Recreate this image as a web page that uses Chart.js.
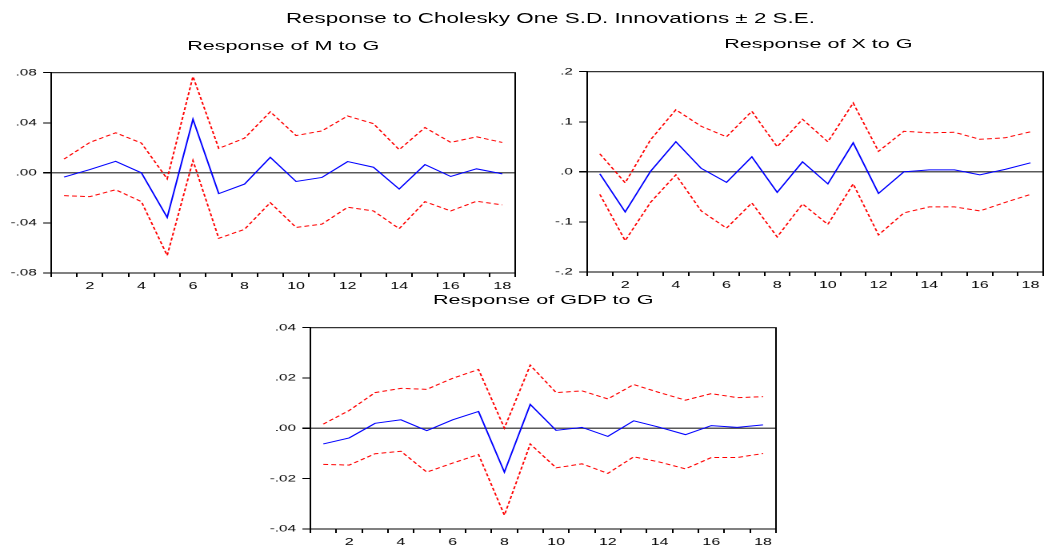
<!DOCTYPE html>
<html>
<head>
<meta charset="utf-8">
<script src="https://cdn.jsdelivr.net/npm/chart.js@4.4.1/dist/chart.umd.min.js"></script>
<style>
  html, body { margin: 0; padding: 0; background: #fff; }
  #wrap { position: absolute; left: 0; top: 0; width: 654px; height: 551px;
          transform: scaleX(1.6); transform-origin: 0 0; }
  .box { position: absolute; }
  .ttl { position: absolute; text-align: center; font-family: "Liberation Sans", Arial, sans-serif;
         color: #000; white-space: nowrap; }
</style>
</head>
<body>
<div id="wrap">
  <div class="ttl" style="left:0;width:688px;top:10px;font-size:14px;">Response to Cholesky One S.D. Innovations ± 2 S.E.</div>
  <div class="ttl" style="left:33px;width:288px;top:38px;font-size:13.5px;">Response of M to G</div>
  <div class="ttl" style="left:370px;width:283px;top:36px;font-size:13.5px;">Response of X to G</div>
  <div class="ttl" style="left:195px;width:289px;top:292px;font-size:13.5px;">Response of GDP to G</div>
  <div class="box" style="left:2px;top:63px;"><canvas id="cM" width="322" height="230"></canvas></div>
  <div class="box" style="left:337px;top:62px;"><canvas id="cX" width="317" height="230"></canvas></div>
  <div class="box" style="left:164px;top:318px;"><canvas id="cGDP" width="323" height="231"></canvas></div>
</div>
<script>
// periods after the shock
const periods = ['1','2','3','4','5','6','7','8','9','10','11','12','13','14','15','16','17','18'];

// Response of M to G
const mResp  = [-0.0034, 0.0026, 0.0092, 0.0000, -0.0356, 0.0428, -0.0166, -0.0090, 0.0124, -0.0069, -0.0037, 0.0090, 0.0045, -0.0129, 0.0066, -0.0029, 0.0032, -0.0008];
const mUpper = [0.0110, 0.0243, 0.0320, 0.0238, -0.0048, 0.0770, 0.0195, 0.0277, 0.0488, 0.0298, 0.0335, 0.0454, 0.0393, 0.0185, 0.0362, 0.0243, 0.0288, 0.0243];
const mLower = [-0.0182, -0.0190, -0.0135, -0.0230, -0.0660, 0.0098, -0.0523, -0.0451, -0.0238, -0.0436, -0.0410, -0.0275, -0.0304, -0.0446, -0.0230, -0.0304, -0.0227, -0.0256];
const mTickVals   = [-0.08, -0.04, 0, 0.04, 0.08];
const mTickLabels = ['-.08', '-.04', '.00', '.04', '.08'];

// Response of X to G
const xResp  = [-0.004, -0.080, 0.001, 0.060, 0.007, -0.021, 0.030, -0.041, 0.020, -0.024, 0.058, -0.043, 0.000, 0.004, 0.004, -0.006, 0.005, 0.018];
const xUpper = [0.036, -0.022, 0.064, 0.124, 0.091, 0.070, 0.121, 0.050, 0.105, 0.060, 0.1375, 0.041, 0.081, 0.078, 0.079, 0.065, 0.068, 0.080];
const xLower = [-0.045, -0.1375, -0.061, -0.006, -0.078, -0.1125, -0.062, -0.130, -0.064, -0.105, -0.024, -0.126, -0.082, -0.070, -0.070, -0.078, -0.061, -0.045];
const xTickVals   = [-0.2, -0.1, 0, 0.1, 0.2];
const xTickLabels = ['-.2', '-.1', '.0', '.1', '.2'];

// Response of GDP to G
const gdpResp  = [-0.0062, -0.0038, 0.0020, 0.0034, -0.0009, 0.0034, 0.0067, -0.0174, 0.0095, -0.0008, 0.0004, -0.0032, 0.0030, 0.0004, -0.0025, 0.0011, 0.0004, 0.0014];
const gdpUpper = [0.0017, 0.0071, 0.0142, 0.0159, 0.0155, 0.0199, 0.0234, 0.0001, 0.0251, 0.0142, 0.0149, 0.0117, 0.0174, 0.0142, 0.0112, 0.0138, 0.0122, 0.0126];
const gdpLower = [-0.0143, -0.0146, -0.0101, -0.0091, -0.0174, -0.0138, -0.0104, -0.0345, -0.0062, -0.0157, -0.0141, -0.0179, -0.0113, -0.0134, -0.0161, -0.0116, -0.0116, -0.0100];
const gdpTickVals   = [-0.04, -0.02, 0, 0.02, 0.04];
const gdpTickLabels = ['-.04', '-.02', '.00', '.02', '.04'];

const FONT = '"Liberation Sans", Arial, sans-serif';

// box around the plot area
const framePlugin = {
    id: 'frame',
    afterDraw(chart) {
        const ctx = chart.ctx;
        const a = chart.chartArea;
        ctx.save();
        ctx.strokeStyle = '#000';
        ctx.lineWidth = 1;
        ctx.strokeRect(a.left, a.top, a.right - a.left, a.bottom - a.top);
        ctx.restore();
    }
};

function makePanel(id, resp, upper, lower, tickVals, tickLabels) {
    const band = (data) => ({
        data: data,
        borderColor: '#ff0000',
        borderWidth: 1,
        borderDash: [3, 2],
        pointRadius: 0,
        tension: 0,
        fill: false
    });
    return new Chart(document.getElementById(id), {
        type: 'line',
        data: {
            labels: periods,
            datasets: [
                band(upper),
                band(lower),
                {
                    data: resp,
                    borderColor: '#0000ff',
                    borderWidth: 1,
                    pointRadius: 0,
                    tension: 0,
                    fill: false
                }
            ]
        },
        options: {
            responsive: false,
            animation: false,
            devicePixelRatio: 2,
            layout: { padding: { left: 0, right: 2, top: 6, bottom: 0 } },
            plugins: { legend: { display: false }, tooltip: { enabled: false } },
            scales: {
                x: {
                    type: 'category',
                    offset: true,
                    afterFit: (s) => { s.height = 20; },
                    grid: { offset: true, drawOnChartArea: false, tickLength: 4, tickColor: '#000' },
                    border: { color: '#000' },
                    ticks: {
                        autoSkip: false,
                        maxRotation: 0,
                        minRotation: 0,
                        padding: 3,
                        color: '#000',
                        font: { family: FONT, size: 10 },
                        callback: function (v, i) { return i % 2 === 1 ? periods[i] : ''; }
                    }
                },
                y: {
                    min: tickVals[0],
                    max: tickVals[tickVals.length - 1],
                    afterFit: (s) => { s.width = 30; },
                    afterBuildTicks: (s) => { s.ticks = tickVals.map(v => ({ value: v })); },
                    grid: {
                        drawOnChartArea: true,
                        tickLength: 5,
                        tickColor: '#000',
                        color: (c) => (c.tick && c.tick.value === 0 ? '#5a5a5a' : 'rgba(0,0,0,0)'),
                        lineWidth: (c) => (c.tick && c.tick.value === 0 ? 1.5 : 1)
                    },
                    border: { color: '#000' },
                    ticks: {
                        padding: 4,
                        color: '#000',
                        font: { family: FONT, size: 9.5 },
                        callback: function (v, i) { return tickLabels[i]; }
                    }
                }
            }
        },
        plugins: [framePlugin]
    });
}

makePanel('cM', mResp, mUpper, mLower, mTickVals, mTickLabels);
makePanel('cX', xResp, xUpper, xLower, xTickVals, xTickLabels);
makePanel('cGDP', gdpResp, gdpUpper, gdpLower, gdpTickVals, gdpTickLabels);
</script>
</body>
</html>
